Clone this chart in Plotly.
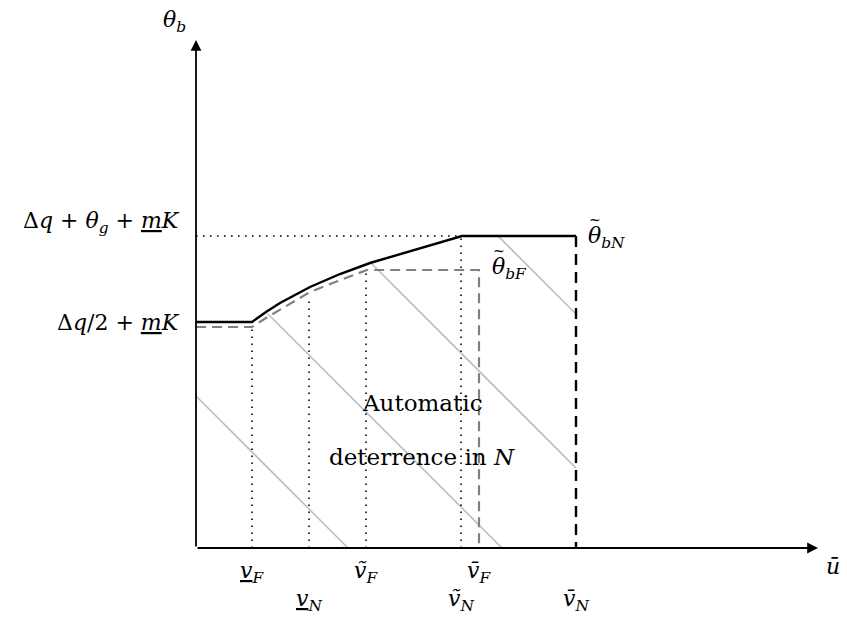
import plotly.graph_objects as go

# thresholds on the horizontal axis (u-bar)
thr_x = [0.56, 1.13, 1.70, 2.65, 2.83, 3.80]
thr_labels = ["<u><i>v</i></u><sub><i>F</i></sub>", "<u><i>v</i></u><sub><i>N</i></sub>",
              "<i>ṽ</i><sub><i>F</i></sub>", "<i>ṽ</i><sub><i>N</i></sub>",
              "<i>v̄</i><sub><i>F</i></sub>", "<i>v̄</i><sub><i>N</i></sub>"]
thr_label_y = [-0.24, -0.52, -0.24, -0.52, -0.24, -0.52]

# theta_bN boundary (black) and theta_bF boundary (grey dashed)
bN_x = [0, 0.56, 0.70, 0.84, 1.14, 1.44, 1.74, 2.24, 2.66, 3.80]
bN_y = [2.26, 2.26, 2.36, 2.45, 2.61, 2.74, 2.85, 3.00, 3.12, 3.12]
bF_x = [0, 0.56, 0.70, 0.84, 1.14, 1.42, 1.71, 2.83, 2.83]
bF_y = [2.21, 2.21, 2.30, 2.38, 2.56, 2.67, 2.78, 2.78, 0]

# dotted guides
guide_x = [0.56, 1.13, 1.70, 2.65]
guide_top = [2.21, 2.50, 2.75, 3.12]
top_level = 3.12

# hatch segments of the shaded region
hatch_x0 = [0, 0.72, 1.74, 3.02]
hatch_y0 = [1.52, 2.34, 2.86, 3.12]
hatch_x1 = [1.52, 3.06, 3.80, 3.80]
hatch_y1 = [0, 0, 0.80, 2.34]

x_max, y_max = 6.22, 5.08
FONT = "DejaVu Serif"

fig = go.Figure()

# hatching
for i in range(len(hatch_x0)):
    fig.add_trace(go.Scatter(x=[hatch_x0[i], hatch_x1[i]], y=[hatch_y0[i], hatch_y1[i]], mode="lines",
                             line=dict(color="#bdbdbd", width=1.6), hoverinfo="skip"))

# dotted guides
for gx, gt in zip(guide_x, guide_top):
    fig.add_trace(go.Scatter(x=[gx, gx], y=[0, gt], mode="lines",
                             line=dict(color="black", width=1.6, dash="1.6px,5.4px"), hoverinfo="skip"))
fig.add_trace(go.Scatter(x=[0, guide_x[-1]], y=[top_level, top_level], mode="lines",
                         line=dict(color="black", width=1.6, dash="1.6px,5.4px"), hoverinfo="skip"))

# grey dashed boundary
fig.add_trace(go.Scatter(x=bF_x, y=bF_y, mode="lines",
                         line=dict(color="#808080", width=2.2, dash="10px,6px"), hoverinfo="skip"))
# black boundary + dashed drop
fig.add_trace(go.Scatter(x=bN_x, y=bN_y, mode="lines",
                         line=dict(color="black", width=2.4), hoverinfo="skip"))
fig.add_trace(go.Scatter(x=[bN_x[-1], bN_x[-1]], y=[bN_y[-1], 0], mode="lines",
                         line=dict(color="black", width=2.4, dash="11px,7px"), hoverinfo="skip"))

# axes with arrows
fig.add_annotation(x=x_max, y=0, ax=0, ay=0, xref="x", yref="y", axref="x", ayref="y",
                   showarrow=True, arrowhead=2, arrowsize=1.2, arrowwidth=1.8, arrowcolor="black", text="")
fig.add_annotation(x=0, y=y_max, ax=0, ay=0, xref="x", yref="y", axref="x", ayref="y",
                   showarrow=True, arrowhead=2, arrowsize=1.2, arrowwidth=1.8, arrowcolor="black", text="")

def label(x, y, text, xanchor="center", size=22):
    fig.add_annotation(x=x, y=y, text=text, showarrow=False, xanchor=xanchor, yanchor="middle",
                       font=dict(family=FONT, size=size, color="black"))

for xv, txt, ly in zip(thr_x, thr_labels, thr_label_y):
    label(xv, ly, txt)

label(-0.22, 5.27, "<i>θ</i><sub><i>b</i></sub>")
label(6.37, -0.18, "<i>ū</i>")
label(-0.14, 3.26, "Δ<i>q</i> + <i>θ</i><sub><i>g</i></sub> + <u><i>m</i></u><i>K</i>", xanchor="right")
label(-0.14, 2.26, "Δ<i>q</i>/2 + <u><i>m</i></u><i>K</i>", xanchor="right")
label(3.90, 3.11, "<i>θ</i><sub><i>bN</i></sub>", xanchor="left")
label(2.94, 2.80, "<i>θ</i><sub><i>bF</i></sub>", xanchor="left")
# tildes over the two thetas (the combining accent does not render)
label(3.99, 3.28, "~", size=14)
label(3.03, 2.97, "~", size=14)
label(2.26, 1.45, "Automatic", size=23)
label(2.26, 0.91, "deterrence in <i>N</i>", size=23)

# the page body adds an 8px offset; the axes span the whole figure so outside labels stay visible
fig.update_layout(
    width=847, height=623, showlegend=False,
    margin=dict(l=0, r=0, t=0, b=0),
    plot_bgcolor="white", paper_bgcolor="white",
    xaxis=dict(range=[-1.88, 6.59], visible=False, fixedrange=True),
    yaxis=dict(range=[-0.83, 5.40], visible=False, fixedrange=True),
)

fig.write_html("out.html")
